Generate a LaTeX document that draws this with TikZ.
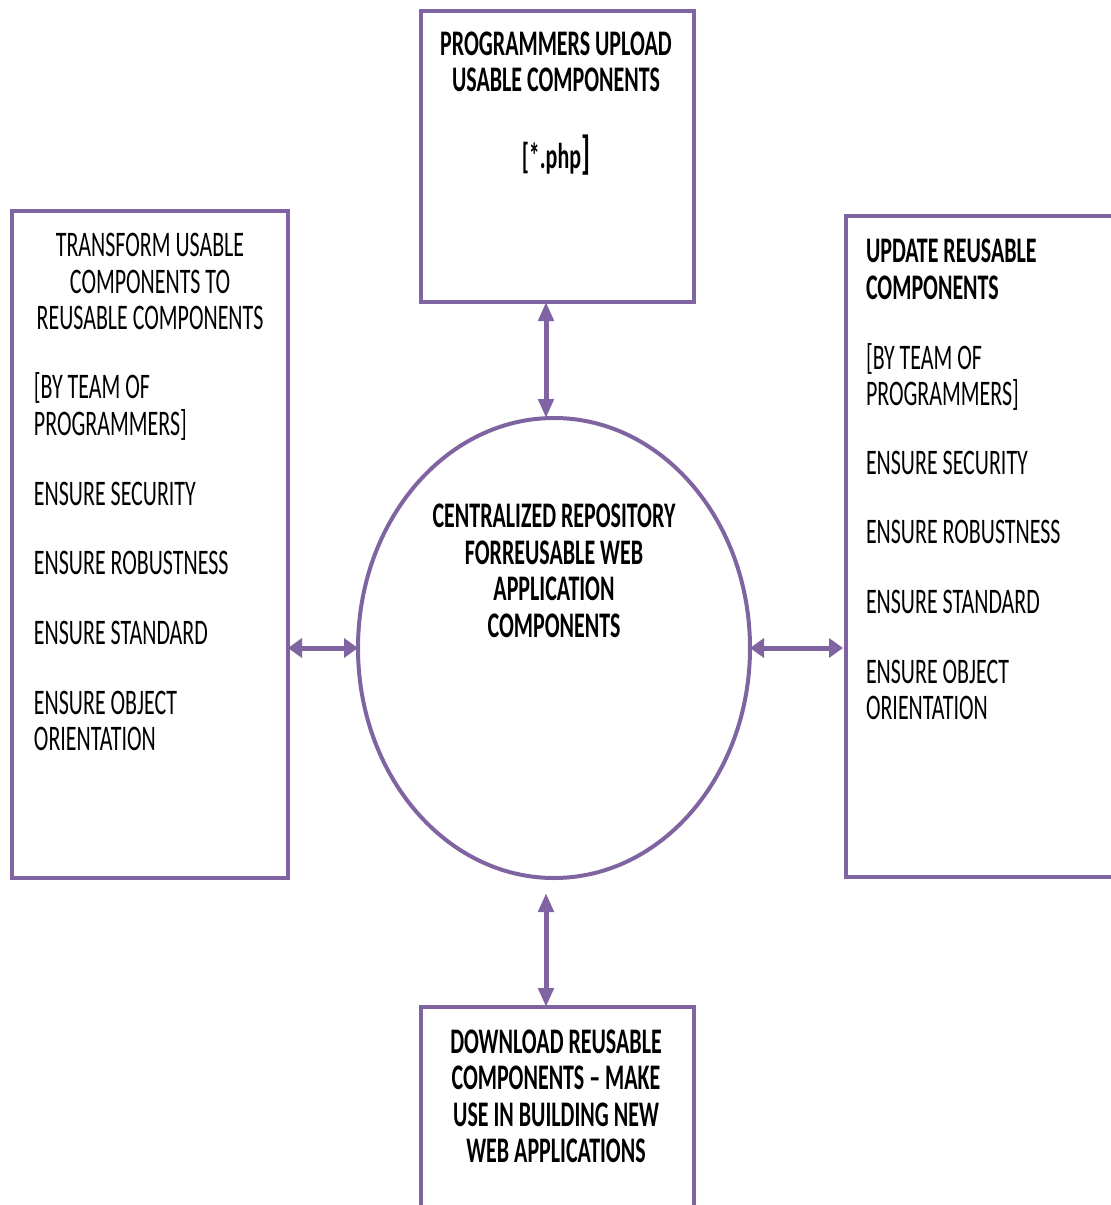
\documentclass[tikz,border=0pt]{standalone}
\usepackage{fontspec}
\setmainfont{Carlito}[FakeStretch=0.61]
\usetikzlibrary{shapes.geometric,arrows.meta,calc}
\definecolor{boxpurple}{HTML}{8064A2}
\begin{document}
\begin{tikzpicture}[x=1pt,y=-1pt,
  boxshape/.style={draw=boxpurple,line width=4pt,rectangle,inner sep=0pt,outer sep=0pt},
  ringshape/.style={draw=boxpurple,line width=4pt,ellipse,inner sep=0pt,outer sep=0pt},
  txt/.style={inner sep=0pt,outer sep=0pt,font=\fontsize{36}{36}\selectfont},
  btxt/.style={txt,font=\fontsize{36}{36}\selectfont\bfseries},
  lt/.style={anchor=base west},
  ct/.style={anchor=base},
  varrow/.style={draw=boxpurple,line width=5pt,{Triangle[length=19pt,width=15pt]}-{Triangle[length=19pt,width=15pt]}},
  harrow/.style={draw=boxpurple,line width=5pt,{Triangle[length=14pt,width=19pt]}-{Triangle[length=14pt,width=19pt]}}
]
\useasboundingbox (0,0) rectangle (1111,1205);
\clip (0,0) rectangle (1111,1205);

% boxes
\node[boxshape,minimum width=273pt,minimum height=291pt] (top) at (557.5,156.5) {};
\node[boxshape,minimum width=276pt,minimum height=667pt] (left) at (150,544.5) {};
\node[boxshape,minimum width=276pt,minimum height=661pt] (right) at (984,546.5) {};
\node[boxshape,minimum width=273pt,minimum height=291pt] (bot) at (557.5,1152.5) {};
\node[ringshape,minimum width=392pt,minimum height=460pt] (ell) at (554,648) {};

% arrows
\draw[varrow] ([xshift=-11.5pt]top.south) -- ([xshift=-8pt]ell.north);
\draw[varrow] ([xshift=-8pt,yshift=-15pt]ell.south) -- ([xshift=-11.5pt]bot.north);
\draw[harrow] (left.east |- ell.west) -- (ell.west);
\draw[harrow] (ell.east) -- ([xshift=-3pt]right.west |- ell.east);

% top box text
\node[btxt,ct] (t1) at (556,55) {PROGRAMMERS UPLOAD};
\node[btxt,ct] (t2) at (556,91) {USABLE COMPONENTS};
\node[btxt,ct] (t3) at (556,168) {[*.php{\fontsize{46}{46}\selectfont]}};

% ellipse text
\node[btxt,ct] (e1) at (554,527.5) {CENTRALIZED REPOSITORY};
\node[btxt,ct] (e2) at (554,564.5) {FORREUSABLE WEB};
\node[btxt,ct] (e3) at (554,600.5) {APPLICATION};
\node[btxt,ct] (e4) at (554,637.5) {COMPONENTS};

% left box text
\node[txt,ct] (l1) at (150,256.5) {TRANSFORM USABLE};
\node[txt,ct] (l2) at (150,293.5) {COMPONENTS TO};
\node[txt,ct] (l3) at (150,329.5) {REUSABLE COMPONENTS};
\node[txt,lt] (l4) at (34,398.5) {[BY TEAM OF};
\node[txt,lt] (l5) at (34,435.5) {PROGRAMMERS]};
\node[txt,lt] (l6) at (34,505.5) {ENSURE SECURITY};
\node[txt,lt] (l7) at (34,574.5) {ENSURE ROBUSTNESS};
\node[txt,lt] (l8) at (34,644.5) {ENSURE STANDARD};
\node[txt,lt] (l9) at (34,714.5) {ENSURE OBJECT};
\node[txt,lt] (l10) at (34,750.5) {ORIENTATION};

% right box text
\node[btxt,lt] (r1) at (866,262.5) {UPDATE REUSABLE};
\node[btxt,lt] (r2) at (866,299.5) {COMPONENTS};
\node[txt,lt] (r3) at (866,369.5) {[BY TEAM OF};
\node[txt,lt] (r4) at (866,405.5) {PROGRAMMERS]};
\node[txt,lt] (r5) at (866,474.5) {ENSURE SECURITY};
\node[txt,lt] (r6) at (866,543.5) {ENSURE ROBUSTNESS};
\node[txt,lt] (r7) at (866,613.5) {ENSURE STANDARD};
\node[txt,lt] (r8) at (866,683.5) {ENSURE OBJECT};
\node[txt,lt] (r9) at (866,719.5) {ORIENTATION};

% bottom box text
\node[btxt,ct] (b1) at (556,1053.5) {DOWNLOAD REUSABLE};
\node[btxt,ct] (b2) at (556,1089.5) {COMPONENTS – MAKE};
\node[btxt,ct] (b3) at (556,1126.5) {USE IN BUILDING NEW};
\node[btxt,ct] (b4) at (556,1162.5) {WEB APPLICATIONS};
\end{tikzpicture}
\end{document}
